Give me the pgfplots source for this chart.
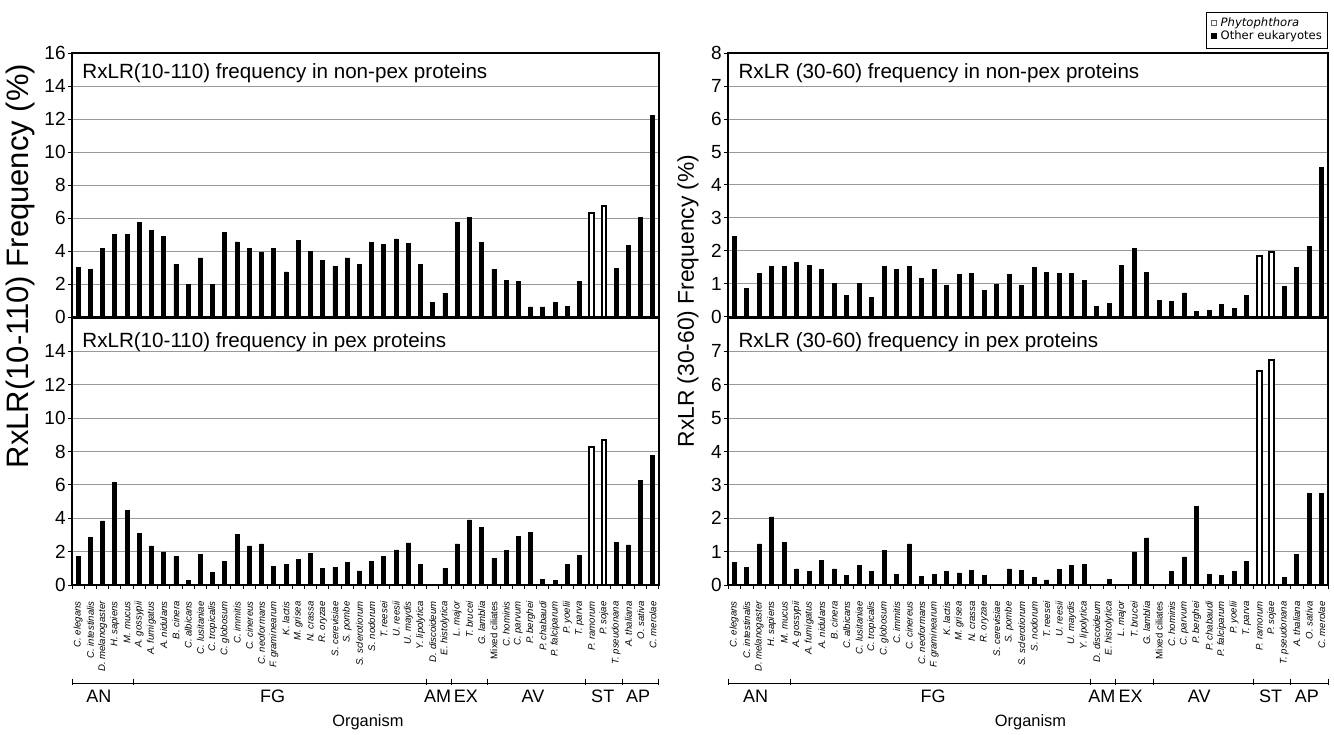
\documentclass[border=0pt]{standalone}
\usepackage{fontspec}
\setmainfont{Liberation Sans}
\newfontfamily\legfont{DejaVu Sans}
\usepackage{pgfplots}
\pgfplotsset{compat=1.18}

\tikzset{ttl/.style={anchor=west, inner sep=0pt, font=\fontsize{10.3}{12}\selectfont}}

\pgfplotsset{
  panel/.style={
    scale only axis,
    xmin=0.5, xmax=48.5, ymin=0,
    axis line style={line width=1pt},
    ymajorgrids,
    major grid style={draw=black!40, line width=0.5pt},
    tick align=outside,
    major tick length=2pt,
    minor tick length=2pt,
    xtick pos=bottom, ytick pos=left,
    tick style={black, line width=0.5pt},
    yticklabel style={font=\fontsize{9.5}{10}\selectfont, inner xsep=1pt},
    /pgf/number format/assume math mode=true,
    clip=false,
  },
  toppanel/.style={panel, height=132pt, xtick=\empty},
  botpanel/.style={panel, height=133.5pt,
    xtick={1,...,48},
    minor xtick={0.5,1.5,...,48.5},
    major x tick style={draw=none},
    xticklabel style={rotate=90, anchor=east, inner sep=0pt,
      font=\fontsize{4.8}{5}\selectfont\itshape},
    xticklabel shift=6pt,
    xticklabels={C. elegans, C. intestinalis, D. melanogaster, H. sapiens, M. mucus,
      A. gossypii, A. fumigatus, A. nidulans, B. cinera, C. albicans, C. lusitaniae,
      C. tropicalis, C. globosum, C. immitis, C. cinereus, C. neoformans,
      F. graminearum, K. lactis, M. grisea, N. crassa, R. oryzae, S. cerevisiae,
      S. pombe, S. sclerotiorum, S. nodorum, T. reesei, U. reesii, U. maydis,
      Y. lipolytica, D. discoideum, E. histolytica, L. major, T. brucei, G. lamblia,
      {\upshape Mixed ciliates}, C. hominis, C. parvum, P. berghei, P. chabaudi,
      P. falciparum, P. yoelii, T. parva, P. ramorum, P. sojae, T. pseudonana,
      A. thaliana, O. sativa, C. merolae}},
  othbar/.style={ybar, bar shift=0pt, bar width=2pt, fill=black, draw=black, line width=0.4pt},
  phybar/.style={ybar, bar shift=0pt, bar width=2.4pt, fill=white, draw=black, line width=1pt},
}

% group bracket below a bottom panel
\newcommand\groupbar{%
  \draw[line width=0.5pt] ([yshift=-49pt]axis cs:0.5,0) -- ([yshift=-49pt]axis cs:48.5,0);
  \pgfplotsinvokeforeach{0.5,5.5,29.5,31.5,34.5,42.5,45.5,48.5}{
    \draw[line width=0.5pt] ([yshift=-46.8pt]axis cs:##1,0) -- ([yshift=-50.2pt]axis cs:##1,0);}
  \begin{scope}[font=\fontsize{9}{10}\selectfont]
  \node at ([yshift=-55.5pt]axis cs:2.7,0) {AN};
  \node at ([yshift=-55.5pt]axis cs:16.9,0) {FG};
  \node at ([yshift=-55.5pt]axis cs:30.4,0) {AM};
  \node at ([yshift=-55.5pt]axis cs:32.7,0) {EX};
  \node at ([yshift=-55.5pt]axis cs:38.2,0) {AV};
  \node at ([yshift=-55.5pt]axis cs:43.9,0) {ST};
  \node at ([yshift=-55.5pt]axis cs:46.8,0) {AP};
  \end{scope}
  \node[font=\fontsize{8.2}{9}\selectfont] at ([yshift=-68.5pt]axis cs:24.7,0) {Organism};
}

\begin{document}
\begin{tikzpicture}
\useasboundingbox (0,0) rectangle (667pt,-367pt);

% ---------- left, non-pex ----------
\begin{axis}[toppanel, width=293.5pt, ymax=16, ytick={0,2,...,16},
  at={(36pt,-26.5pt)}, anchor=north west]
\addplot[othbar] coordinates {
  (1,2.99)(2,2.87)(3,4.14)(4,4.99)(5,4.99)(6,5.72)(7,5.23)(8,4.87)(9,3.21)(10,1.96)
  (11,3.58)(12,1.96)(13,5.13)(14,4.55)(15,4.18)(16,3.90)(17,4.18)(18,2.73)(19,4.63)
  (20,3.98)(21,3.45)(22,3.09)(23,3.58)(24,3.19)(25,4.51)(26,4.38)(27,4.73)(28,4.44)
  (29,3.17)(30,0.89)(31,1.45)(32,5.74)(33,6.06)(34,4.51)(35,2.89)(36,2.22)(37,2.16)
  (38,0.61)(39,0.61)(40,0.89)(41,0.65)(42,2.16)(45,2.95)(46,4.32)(47,6.06)(48,12.24)};
\addplot[phybar] coordinates {(43,6.33)(44,6.72)};
\node[ttl] at (rel axis cs:0.017,0.924) {RxLR(10-110) frequency in non-pex proteins};
\end{axis}

% ---------- left, pex ----------
\begin{axis}[botpanel, width=293.5pt, ymax=16, ytick={0,2,...,14},
  at={(36pt,-159pt)}, anchor=north west]
\addplot[othbar] coordinates {
  (1,1.70)(2,2.86)(3,3.84)(4,6.16)(5,4.48)(6,3.08)(7,2.34)(8,1.98)(9,1.70)(10,0.30)
  (11,1.82)(12,0.76)(13,1.42)(14,3.04)(15,2.34)(16,2.46)(17,1.12)(18,1.24)(19,1.54)
  (20,1.90)(21,1.00)(22,1.06)(23,1.36)(24,0.84)(25,1.42)(26,1.70)(27,2.10)(28,2.52)
  (29,1.24)(30,0)(31,1.00)(32,2.46)(33,3.90)(34,3.44)(35,1.60)(36,2.08)(37,2.92)
  (38,3.16)(39,0.36)(40,0.30)(41,1.24)(42,1.78)(45,2.56)(46,2.40)(47,6.24)(48,7.74)};
\addplot[phybar] coordinates {(43,8.25)(44,8.68)};
\node[ttl] at (rel axis cs:0.017,0.91) {RxLR(10-110) frequency in pex proteins};
\groupbar
\end{axis}

% ---------- right, non-pex ----------
\begin{axis}[toppanel, width=300pt, ymax=8, ytick={0,1,...,8},
  at={(364pt,-26.5pt)}, anchor=north west,
  legend style={at={(1,1)}, anchor=south east, yshift=2pt,
    font=\legfont\fontsize{5.8}{6.5}\selectfont, draw=black, line width=0.5pt,
    inner xsep=2.5pt, inner ysep=2.6pt, row sep=0pt,
    nodes={inner sep=0.3pt},
    /tikz/every odd column/.append style={column sep=1.8pt}},
  legend cell align=left]
\addplot[phybar, legend image code/.code={\draw[fill=white, draw=black!60, line width=0.3pt] (0pt,-0.6pt) rectangle (2.2pt,1.6pt);}]
  coordinates {(43,1.86)(44,1.98)};
\addlegendentry{\itshape Phytophthora}
\addplot[othbar, legend image code/.code={\fill[black] (0pt,-0.6pt) rectangle (2.2pt,1.6pt);}]
  coordinates {
  (1,2.43)(2,0.86)(3,1.31)(4,1.53)(5,1.53)(6,1.65)(7,1.57)(8,1.45)(9,1.02)(10,0.64)
  (11,1.02)(12,0.60)(13,1.52)(14,1.43)(15,1.52)(16,1.17)(17,1.43)(18,0.96)(19,1.28)
  (20,1.31)(21,0.81)(22,0.98)(23,1.28)(24,0.96)(25,1.49)(26,1.34)(27,1.31)(28,1.31)
  (29,1.10)(30,0.32)(31,0.41)(32,1.57)(33,2.07)(34,1.34)(35,0.50)(36,0.46)(37,0.73)
  (38,0.16)(39,0.20)(40,0.38)(41,0.25)(42,0.64)(45,0.93)(46,1.49)(47,2.13)(48,4.54)};
\addlegendentry{Other eukaryotes}
\node[ttl] at (rel axis cs:0.017,0.924) {RxLR (30-60) frequency in non-pex proteins};
\end{axis}

% ---------- right, pex ----------
\begin{axis}[botpanel, width=300pt, ymax=8, ytick={0,1,...,7},
  at={(364pt,-159pt)}, anchor=north west]
\addplot[othbar] coordinates {
  (1,0.67)(2,0.53)(3,1.23)(4,2.04)(5,1.27)(6,0.48)(7,0.41)(8,0.73)(9,0.48)(10,0.29)
  (11,0.58)(12,0.41)(13,1.03)(14,0.32)(15,1.23)(16,0.26)(17,0.32)(18,0.41)(19,0.36)
  (20,0.44)(21,0.29)(22,0)(23,0.48)(24,0.44)(25,0.23)(26,0.15)(27,0.47)(28,0.58)
  (29,0.61)(30,0)(31,0.17)(32,0)(33,0.99)(34,1.41)(35,0)(36,0.41)(37,0.84)
  (38,2.36)(39,0.32)(40,0.29)(41,0.41)(42,0.70)(45,0.23)(46,0.92)(47,2.75)(48,2.73)};
\addplot[phybar] coordinates {(43,6.40)(44,6.75)};
\node[ttl] at (rel axis cs:0.017,0.91) {RxLR (30-60) frequency in pex proteins};
\groupbar
\end{axis}

% shared y labels
\node[rotate=90, font=\fontsize{15.5}{16}\selectfont] at (10pt,-133pt) {RxLR(10-110) Frequency (\%)};
\node[rotate=90, font=\fontsize{11.4}{12}\selectfont] at (344pt,-150.5pt) {RxLR (30-60) Frequency (\%)};
\end{tikzpicture}
\end{document}
